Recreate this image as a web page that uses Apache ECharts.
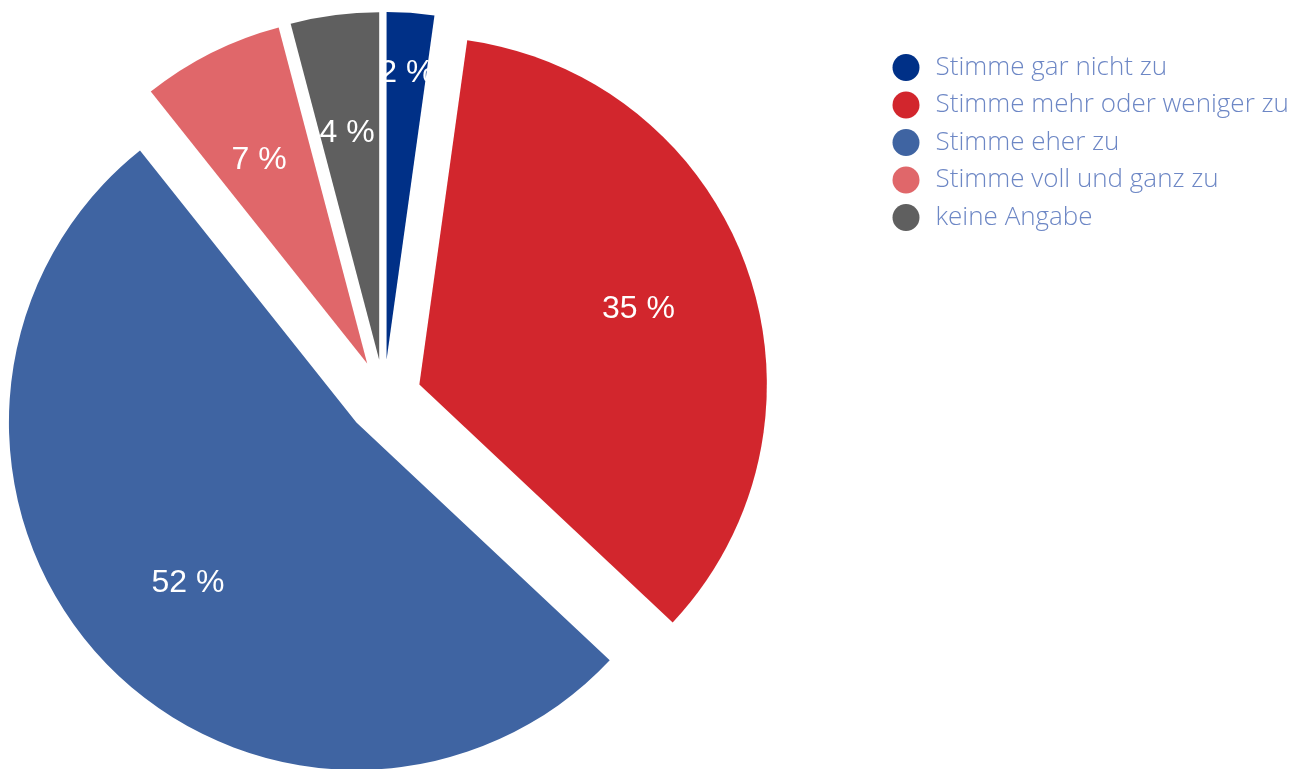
<!DOCTYPE html>
<html>
<head>
<meta charset="utf-8">
<script src="https://cdn.jsdelivr.net/npm/echarts@6/dist/echarts.min.js"></script>
<style>
html,body{margin:0;padding:0;background:#fff;}
#chart{width:1308px;height:769px;}
</style>
</head>
<body>
<div id="chart"></div>
<script>
const categories = ["Stimme gar nicht zu", "Stimme mehr oder weniger zu", "Stimme eher zu", "Stimme voll und ganz zu", "keine Angabe"];
const values = [2.2, 34.8, 52.3, 6.6, 4.1];
const labels = ["2 %", "35 %", "52 %", "7 %", "4 %"];
const colors = ["#003087", "#D2262D", "#3F64A2", "#E0676A", "#5F5F5F"];

const CENTER = [384, 397];
const R = 347.5;
const labelOffsets = [[4, -52], [-2, 3], [4, 2], [-3, 6], [-2, 6]];

const chart = echarts.init(document.getElementById('chart'), null, {renderer: 'canvas'});

const pieData = categories.map((c, i) => ({
  name: c,
  value: values[i],
  selected: true,
  itemStyle: {color: colors[i]},
  select: {itemStyle: {color: colors[i]}}
}));

const labelData = categories.map((c, i) => ({
  name: c,
  value: values[i],
  label: {offset: labelOffsets[i]}
}));

chart.setOption({
  animation: false,
  color: colors,
  legend: {
    orient: 'vertical',
    left: 892.5,
    top: 53,
    padding: 0,
    icon: 'circle',
    itemWidth: 27,
    itemHeight: 27,
    itemGap: 8.5,
    data: categories,
    textStyle: {
      fontFamily: 'Open Sans',
      fontWeight: 300,
      fontSize: 26,
      lineHeight: 27,
      color: '#6D87C5',
      padding: [2, 0, 0, 11]
    },
    selectedMode: false
  },
  series: [
    {
      type: 'pie',
      center: CENTER,
      radius: [0, R],
      startAngle: 90,
      clockwise: true,
      selectedMode: 'multiple',
      selectedOffset: 37.5,
      silent: true,
      label: {show: false},
      labelLine: {show: false},
      itemStyle: {borderWidth: 0},
      emphasis: {disabled: true},
      data: pieData
    },
    {
      type: 'pie',
      center: CENTER,
      radius: [0, 538],
      startAngle: 90,
      clockwise: true,
      silent: true,
      itemStyle: {color: 'rgba(0,0,0,0)'},
      legendHoverLink: false,
      emphasis: {disabled: true},
      labelLine: {show: false},
      label: {
        show: true,
        position: 'inner',
        color: '#ffffff',
        fontFamily: 'Liberation Sans, Arial, sans-serif',
        fontSize: 32,
        formatter: p => labels[p.dataIndex]
      },
      data: labelData
    }
  ]
});
</script>
</body>
</html>
